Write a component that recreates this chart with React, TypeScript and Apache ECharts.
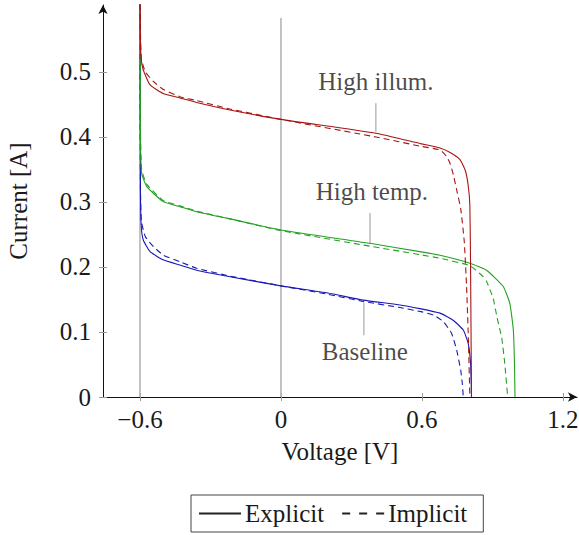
import React, { useEffect, useRef } from "react";
import * as echarts from "echarts";

// Voltage [V], Current [A]
const baselineExplicit: [number, number][] = [
  [-0.6, 0.62], [-0.598, 0.32], [-0.595, 0.265], [-0.586, 0.2415], [-0.557, 0.2236],
  [-0.502, 0.211], [-0.43, 0.203], [-0.359, 0.195], [-0.217, 0.185], [0, 0.171],
  [0.2, 0.16], [0.35, 0.149], [0.5, 0.142], [0.591, 0.136], [0.677, 0.129],
  [0.733, 0.118], [0.776, 0.103], [0.797, 0.0825], [0.807, 0.052], [0.81, 0.02], [0.811, 0],
];
const baselineImplicit: [number, number][] = [
  [-0.6, 0.62], [-0.598, 0.32], [-0.594, 0.27], [-0.577, 0.2466], [-0.542, 0.231],
  [-0.5, 0.218], [-0.43, 0.208], [-0.359, 0.198], [-0.217, 0.186], [0, 0.171],
  [0.2, 0.158], [0.35, 0.147], [0.5, 0.138], [0.6, 0.131], [0.65, 0.126],
  [0.691, 0.116], [0.726, 0.098], [0.748, 0.072], [0.765, 0.0415], [0.772, 0.02], [0.776, 0],
];
const tempExplicit: [number, number][] = [
  [-0.6, 0.62], [-0.598, 0.4], [-0.593, 0.344], [-0.571, 0.3236], [-0.501, 0.3005],
  [-0.43, 0.2928], [-0.359, 0.285], [-0.217, 0.274], [0, 0.257], [0.379, 0.2364],
  [0.591, 0.2236], [0.677, 0.218], [0.804, 0.2057], [0.875, 0.195], [0.946, 0.17],
  [0.974, 0.144], [0.989, 0.103], [0.994, 0.05], [0.996, 0],
];
const tempImplicit: [number, number][] = [
  [-0.6, 0.62], [-0.598, 0.41], [-0.593, 0.35], [-0.571, 0.327], [-0.5, 0.302],
  [-0.43, 0.294], [-0.359, 0.286], [-0.217, 0.274], [0, 0.256], [0.379, 0.232],
  [0.591, 0.219], [0.677, 0.2134], [0.804, 0.202], [0.861, 0.185], [0.875, 0.178],
  [0.903, 0.152], [0.92, 0.122], [0.94, 0.09], [0.953, 0.05], [0.965, 0],
];
const illumExplicit: [number, number][] = [
  [-0.6, 0.62], [-0.598, 0.55], [-0.595, 0.52], [-0.586, 0.503], [-0.557, 0.48],
  [-0.502, 0.467], [-0.43, 0.46], [-0.359, 0.453], [-0.217, 0.4415], [0, 0.427],
  [0.404, 0.4057], [0.591, 0.39], [0.677, 0.383], [0.72, 0.376], [0.762, 0.365],
  [0.785, 0.348], [0.797, 0.325], [0.804, 0.295], [0.807, 0.2], [0.809, 0.1], [0.811, 0],
];
const illumImplicit: [number, number][] = [
  [-0.6, 0.62], [-0.598, 0.56], [-0.594, 0.52], [-0.577, 0.5], [-0.542, 0.485],
  [-0.5, 0.473], [-0.43, 0.462], [-0.359, 0.456], [-0.217, 0.443], [0, 0.427],
  [0.404, 0.4], [0.591, 0.386], [0.677, 0.38], [0.705, 0.37], [0.719, 0.36],
  [0.735, 0.34], [0.75, 0.315], [0.765, 0.29], [0.78, 0.24], [0.79, 0.17],
  [0.797, 0.098], [0.804, 0],
];

const guideLines: [number, number][][] = [
  [[-0.6, 0], [-0.6, 0.583]],
  [[0, 0], [0, 0.583]],
];

const annotations = [
  { text: "High illum.", v: 0.404, i: 0.486, pinFrom: 0.408, pinTo: 0.452 },
  { text: "High temp.", v: 0.387, i: 0.316, pinFrom: 0.236, pinTo: 0.283 },
  { text: "Baseline", v: 0.357, i: 0.07, pinFrom: 0.145, pinTo: 0.095 },
];
const pinV = [0.404, 0.379, 0.353];

const xTicks = [-0.6, 0, 0.6, 1.2];
const yTicks = [0, 0.1, 0.2, 0.3, 0.4, 0.5];

const FONT = "'Liberation Serif', 'Times New Roman', serif";
const FS = 25;
const TXT = "#1a1a1a";
const RED = "#a81313";
const GREEN = "#22a022";
const BLUE = "#1818b8";
const GRAY = "#b4b4b4";
const DASH = [6, 4];

export default function App() {
  const ref = useRef<HTMLDivElement>(null);
  useEffect(() => {
    if (!ref.current) return;
    const chart = echarts.init(ref.current, null, { renderer: "svg" });
    const curve = (name: string, data: [number, number][], color: string, dashed: boolean) => ({
      type: "line",
      name,
      data,
      symbol: "none",
      smooth: 0.15,
      lineStyle: { color, width: 1.1, type: dashed ? DASH : "solid" },
      itemStyle: { color },
      silent: true,
      z: 3,
    });
    const series: any[] = [];
    guideLines.forEach((g, k) =>
      series.push({
        type: "line",
        name: "guide" + k,
        data: g,
        symbol: "none",
        lineStyle: { color: GRAY, width: 1.6 },
        silent: true,
        z: 1,
      })
    );
    annotations.forEach((a, k) =>
      series.push({
        type: "line",
        name: "pin" + k,
        data: [[pinV[k], a.pinFrom], [pinV[k], a.pinTo]],
        symbol: "none",
        lineStyle: { color: "#999999", width: 1 },
        silent: true,
        z: 2,
      })
    );
    series.push(curve("b1", baselineExplicit, BLUE, false));
    series.push(curve("b2", baselineImplicit, BLUE, true));
    series.push(curve("t1", tempExplicit, GREEN, false));
    series.push(curve("t2", tempImplicit, GREEN, true));
    series.push(curve("r1", illumExplicit, RED, false));
    series.push(curve("r2", illumImplicit, RED, true));
    series.push({
      type: "scatter",
      name: "labels",
      data: annotations.map((a) => [a.v, a.i, a.text]),
      symbolSize: 0,
      silent: true,
      label: {
        show: true,
        position: "inside",
        formatter: (p: any) => p.value[2],
        fontFamily: FONT,
        fontSize: FS,
        color: TXT,
      },
      z: 4,
    });
    series.push({
      type: "line",
      name: "Explicit",
      data: [],
      symbol: "none",
      showSymbol: false,
      lineStyle: { color: "#222", width: 1.1, type: "solid" },
      itemStyle: { color: "#222" },
    });
    series.push({
      type: "line",
      name: "Implicit",
      data: [],
      symbol: "none",
      showSymbol: false,
      lineStyle: { color: "#222", width: 1.1, type: [8, 9] },
      itemStyle: { color: "#222" },
    });

    const labelStyle = { fontFamily: FONT, fontSize: FS, color: TXT };
    chart.setOption({
      animation: false,
      textStyle: { fontFamily: FONT },
      grid: {
        left: 103,
        top: 5,
        width: 474,
        height: 392,
        containLabel: false,
        outerBoundsMode: "none",
      },
      legend: {
        data: ["Explicit", "Implicit"],
        left: 191,
        top: 495,
        itemWidth: 42,
        itemHeight: 14,
        itemGap: 17,
        padding: [5, 16, 5, 7],
        borderColor: "#444",
        borderWidth: 1,
        borderRadius: 0,
        selectedMode: false,
        itemStyle: { opacity: 0 },
        textStyle: { ...labelStyle, lineHeight: 27, padding: [0, 0, 0, -1] },
      },
      xAxis: [
        {
          type: "value",
          min: -0.7574,
          max: 1.26,
          axisLine: {
            show: true,
            onZero: false,
            symbol: ["none", "arrow"],
            symbolSize: [7, 9],
            lineStyle: { color: "#111", width: 1 },
          },
          axisTick: { show: true, customValues: xTicks, length: 4, lineStyle: { color: "#999" } },
          axisLabel: {
            ...labelStyle,
            customValues: xTicks,
            margin: 10,
            formatter: (v: number) => (v === 0 ? "0" : v < 0 ? "\u2212" + Math.abs(v).toFixed(1) : v.toFixed(1)),
          },
          splitLine: { show: false },
          name: "Voltage [V]",
          nameLocation: "middle",
          nameGap: 42,
          nameTextStyle: labelStyle,
        },
        {
          type: "value",
          min: -0.7574,
          max: 1.26,
          position: "bottom",
          axisLine: { show: false, onZero: false },
          axisTick: { show: true, inside: true, customValues: xTicks, length: 4, lineStyle: { color: "#999" } },
          axisLabel: { show: false },
          splitLine: { show: false },
        },
      ],
      yAxis: [
        {
          type: "value",
          min: 0,
          max: 0.603,
          axisLine: {
            show: true,
            onZero: false,
            symbol: ["none", "arrow"],
            symbolSize: [7, 9],
            lineStyle: { color: "#111", width: 1 },
          },
          axisTick: { show: true, customValues: yTicks, length: 4, lineStyle: { color: "#999" } },
          axisLabel: {
            ...labelStyle,
            customValues: yTicks,
            margin: 12,
            formatter: (v: number) => (v === 0 ? "0" : v.toFixed(1)),
          },
          splitLine: { show: false },
          name: "Current [A]",
          nameLocation: "middle",
          nameRotate: 90,
          nameGap: 72,
          nameTextStyle: labelStyle,
        },
        {
          type: "value",
          min: 0,
          max: 0.603,
          position: "left",
          axisLine: { show: false, onZero: false },
          axisTick: { show: true, inside: true, customValues: yTicks, length: 4, lineStyle: { color: "#999" } },
          axisLabel: { show: false },
          splitLine: { show: false },
        },
      ],
      series,
    });
    return () => chart.dispose();
  }, []);
  return (
    <div
      ref={ref}
      style={{ position: "absolute", left: 0, top: 0, width: 579, height: 535, background: "#fff" }}
    />
  );
}
